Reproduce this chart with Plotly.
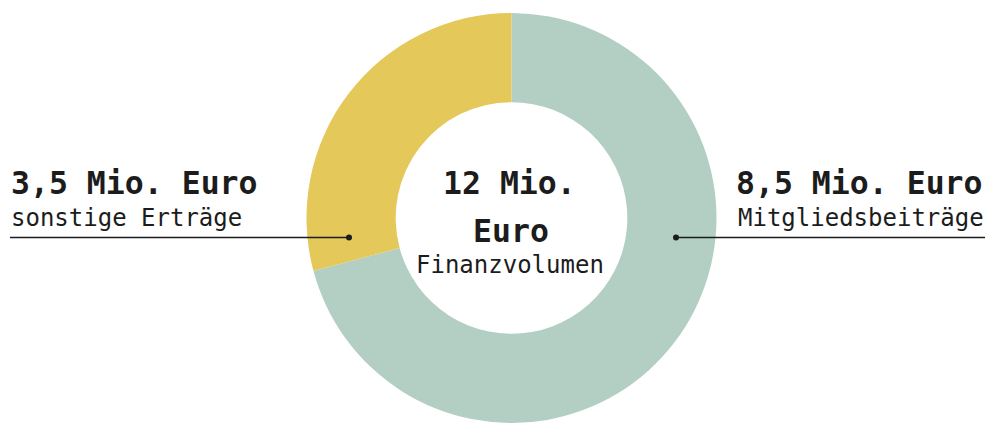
import plotly.graph_objects as go

# ---- data ----
categories = ["Mitgliedsbeiträge", "sonstige Erträge"]
values = [8.5, 3.5]
value_labels = ["8,5 Mio. Euro", "3,5 Mio. Euro"]
total_lines = ["12 Mio.", "Euro"]
total_caption = "Finanzvolumen"
colors = ["#B3CFC3", "#E5C85A"]

W, H = 990, 423
FONT = "DejaVu Sans Mono"
INK = "#1c1c1c"
HEAD = 31.5
SUB = 24

def px(x):
    return x / W

def py(y):
    return 1 - y / H

fig = go.Figure()
fig.add_trace(go.Pie(
    labels=categories,
    values=values,
    marker=dict(colors=colors, line=dict(width=0)),
    hole=0.565,
    sort=False,
    direction="clockwise",
    rotation=0,
    textinfo="none",
    hoverinfo="label+value",
    showlegend=False,
    domain=dict(x=[px(306.5), px(716.5)], y=[0, py(13)]),
))

ann = []
# left label
ann.append(dict(x=px(9), y=py(183), text=value_labels[1], xanchor="left", yanchor="middle",
                font=dict(family=FONT, size=HEAD, color=INK, weight=700)))
ann.append(dict(x=px(9), y=py(218), text=categories[1], xanchor="left", yanchor="middle",
                font=dict(family=FONT, size=SUB, color=INK)))
# right label
ann.append(dict(x=px(985), y=py(183), text=value_labels[0], xanchor="right", yanchor="middle",
                font=dict(family=FONT, size=HEAD, color=INK, weight=700)))
ann.append(dict(x=px(986), y=py(218), text=categories[0], xanchor="right", yanchor="middle",
                font=dict(family=FONT, size=SUB, color=INK)))
# center
ann.append(dict(x=px(509), y=py(183), text=total_lines[0], xanchor="center", yanchor="middle",
                font=dict(family=FONT, size=HEAD, color=INK, weight=700)))
ann.append(dict(x=px(511), y=py(231), text=total_lines[1], xanchor="center", yanchor="middle",
                font=dict(family=FONT, size=HEAD, color=INK, weight=700)))
ann.append(dict(x=px(510), y=py(265), text=total_caption, xanchor="center", yanchor="middle",
                font=dict(family=FONT, size=SUB, color=INK)))
for a in ann:
    a.update(xref="paper", yref="paper", showarrow=False)

shapes = [
    dict(type="line", xref="paper", yref="paper", x0=px(10), x1=px(349), y0=py(237.5), y1=py(237.5),
         line=dict(color=INK, width=1.5)),
    dict(type="line", xref="paper", yref="paper", x0=px(676), x1=px(985), y0=py(237.5), y1=py(237.5),
         line=dict(color=INK, width=1.5)),
    dict(type="circle", xref="paper", yref="paper", x0=px(346), x1=px(352), y0=py(234.5), y1=py(240.5),
         fillcolor=INK, line=dict(width=0)),
    dict(type="circle", xref="paper", yref="paper", x0=px(673), x1=px(679), y0=py(234.5), y1=py(240.5),
         fillcolor=INK, line=dict(width=0)),
]

fig.update_layout(
    width=W, height=H,
    margin=dict(l=0, r=0, t=0, b=0),
    paper_bgcolor="white", plot_bgcolor="white",
    annotations=ann, shapes=shapes,
)
fig.write_html("out.html", config={"displayModeBar": False},
               post_script="document.body.style.margin='0';document.body.style.overflow='hidden';")
